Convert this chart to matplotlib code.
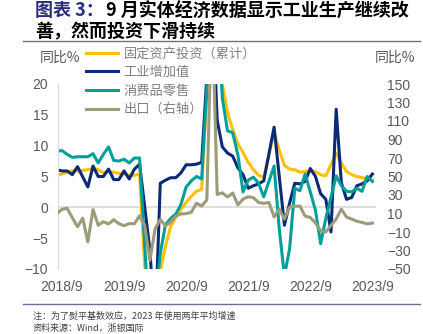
import numpy as np
import pandas as pd
import matplotlib
matplotlib.use("Agg")
import matplotlib.pyplot as plt
from matplotlib.lines import Line2D
from matplotlib.font_manager import FontProperties

nan = np.nan
CJK = ["Noto Sans CJK SC", "DejaVu Sans"]
plt.rcParams["font.family"] = ["Liberation Sans", "Noto Sans CJK SC"]

# --- datos mensuales 2018/8 - 2023/9 (enero sin dato en las series acumuladas) ---
meses = pd.period_range("2018-08", "2023-09", freq="M")

inversion = [5.3, 5.4, 5.7, 5.9, 5.9,
             nan, 6.1, 6.3, 6.1, 5.6, 5.8, 5.7, 5.5, 5.4, 5.2, 5.2, 5.4,
             nan, -24.5, -16.1, -10.3, -6.3, -3.1, -1.6, -0.3, 0.8, 1.8, 2.6, 2.9,
             nan, 35.0, 25.6, 19.9, 15.4, 12.6, 10.3, 8.9, 7.3, 6.1, 5.2, 4.9,
             nan, 12.2, 9.3, 6.8, 6.2, 6.1, 5.7, 5.8, 5.9, 5.8, 5.3, 5.1,
             nan, 8.8, 7.2, 5.8, 5.3, 5.0, 4.8, 4.6, 4.4]

industria = [6.1, 5.9, 5.9, 5.3, 6.6,
             nan, 3.3, 6.7, 5.0, 5.0, 6.2, 4.5, 4.5, 5.9, 4.6, 6.2, 7.0,
             nan, -7.0, -20.0, 3.9, 4.4, 4.8, 4.8, 5.6, 6.9, 6.9, 7.0, 7.3,
             nan, 35.1, 14.1, 9.8, 8.8, 8.3, 6.4, 5.3, 3.1, 3.5, 3.8, 4.3,
             nan, 13.0, 5.0, -2.9, 0.7, 3.9, 3.8, 4.2, 6.3, 5.0, 2.2, 1.3,
             -4.0, 15.9, 4.0, 1.3, 1.6, 3.5, 3.8, 4.3, 5.4]

consumo = [9.1, 9.2, 8.6, 8.1, 8.2,
           nan, 8.2, 8.7, 7.2, 8.6, 9.8, 7.6, 7.5, 7.8, 7.2, 8.0, 8.0,
           nan, -20.5, -15.8, -7.5, -2.8, -1.8, -1.1, 0.5, 3.3, 4.3, 5.0, 4.6,
           nan, 33.8, 34.2, 17.7, 12.4, 12.1, 8.5, 2.5, 4.4, 4.9, 3.9, 1.7,
           nan, 6.7, -3.5, -11.1, -6.7, 3.1, 2.7, 5.4, 2.5, -0.5, -5.9, -1.8,
           nan, 5.1, 3.5, 2.6, 2.5, 3.1, 2.6, 5.0, 4.2]

exportaciones = [9.8, 14.5, 15.6, 5.4, -4.4,
                 5.0, -20.7, 14.2, -2.7, 1.1, -1.3, 3.3, -1.0, -3.2, -0.9, -1.1, 7.6,
                 -3.3, -40.6, -6.6, 3.5, -3.3, 0.5, 7.2, 9.5, 9.9, 11.4, 21.1, 18.1,
                 24.7, 240.0, 30.6, 32.3, 27.9, 32.2, 19.3, 25.6, 28.1, 27.1, 22.0, 20.9,
                 22.0, 6.3, 14.7, 3.9, 16.9, 17.9, 18.0, 7.1, 5.7, -0.3, -8.7, -9.9,
                 nan, 4.1, 14.7, 6.2, 4.0, 1.6, 0.4, -1.2, -0.4]

nombres = ["固定资产投资（累计）", "工业增加值", "消费品零售", "出口（右轴）"]
colores = ["#FFC000", "#0B2A78", "#00A09A", "#9C9B7A"]

x = np.arange(len(meses))
pos_ticks = [i for i, p in enumerate(meses) if p.month == 9]
etiquetas = [f"{p.year}/{p.month}" for p in meses if p.month == 9]

fig = plt.figure(figsize=(4.23, 3.34), dpi=100)
ax = fig.add_axes([58 / 423, 1 - 269 / 334, 318 / 423, 185 / 334])
ax2 = ax.twinx()

ax.axhline(0, color="#D9D9D9", lw=1.2, zorder=0)

lineas = []
for serie, color in zip([inversion, industria, consumo], colores[:3]):
    v = np.array(serie, dtype=float)
    m = ~np.isnan(v)
    (ln,) = ax.plot(x[m], v[m], color=color, lw=2.2, solid_joinstyle="round")
    lineas.append(ln)
v = np.array(exportaciones, dtype=float)
m = ~np.isnan(v)
(ln,) = ax2.plot(x[m], v[m], color=colores[3], lw=2.2, solid_joinstyle="round")
lineas.append(ln)

ax.set_xlim(0.23, 61.7)
ax.set_ylim(-10, 20)
ax2.set_ylim(-50, 150)
ax.set_yticks(range(-10, 21, 5))
ax2.set_yticks(range(-50, 151, 20))
ax.set_xticks(pos_ticks)
ax.set_xticklabels(etiquetas)

for a in (ax, ax2):
    for s in a.spines.values():
        s.set_visible(False)
ax.spines["left"].set_visible(True)
ax.spines["left"].set_color("#D9D9D9")
ax.tick_params(axis="both", length=0, labelsize=10, labelcolor="#595959")
ax.tick_params(axis="y", pad=7)
ax.tick_params(axis="x", pad=8)
ax2.tick_params(axis="y", length=0, labelsize=10, labelcolor="#595959", pad=8)

fig.legend(lineas, nombres, loc="upper left", bbox_to_anchor=(86 / 423, 1 - 47.5 / 334),
           frameon=False, handlelength=2.45, handletextpad=0.4, labelspacing=0.42,
           borderaxespad=0, borderpad=0,
           prop=FontProperties(family=CJK, size=9.5, weight="light"),
           labelcolor="#808080")

# --- titulo, separadores y notas ---
fig.text(35 / 423, 1 - 11 / 334, "图表 3：", family=CJK, fontsize=13, fontweight="bold",
         color="#2B2D7C", va="center")
fig.text(106 / 423, 1 - 11 / 334, "9 月实体经济数据显示工业生产继续改", family=CJK, fontsize=13,
         fontweight="bold", color="black", va="center")
fig.text(35 / 423, 1 - 32 / 334, "善，然而投资下滑持续", family=CJK, fontsize=13,
         fontweight="bold", color="black", va="center")
fig.add_artist(Line2D([23 / 423, 420 / 423], [1 - 41 / 334] * 2, color="#6E6E9C", lw=1))
fig.add_artist(Line2D([23 / 423, 420 / 423], [1 - 304 / 334] * 2, color="#6E6E9C", lw=1))

fig.text(40 / 423, 1 - 58 / 334, "同比%", family=CJK, fontsize=10, color="#595959", va="center")
fig.text(375 / 423, 1 - 58 / 334, "同比%", family=CJK, fontsize=10, color="#595959", va="center")

fig.text(33 / 423, 1 - 316 / 334, "注：为了熨平基数效应，2023 年使用两年平均增速", family=CJK,
         fontsize=6.5, color="#404040", va="center")
fig.text(33 / 423, 1 - 328.5 / 334, "资料来源：Wind，浙银国际", family=CJK,
         fontsize=6.5, color="#404040", va="center")

fig.savefig("out.png", dpi=100)
